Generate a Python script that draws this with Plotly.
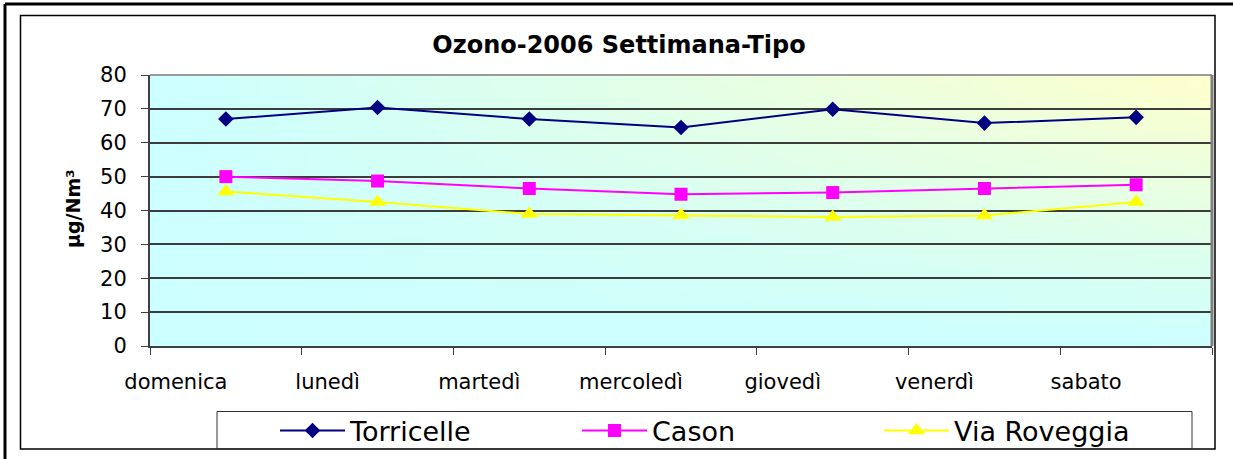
import base64
import struct
import zlib

import plotly.graph_objects as go

# ---------------- data ----------------
days = ["domenica", "lunedì", "martedì", "mercoledì", "giovedì", "venerdì", "sabato"]
torricelle = [67.0, 70.4, 67.0, 64.5, 69.9, 65.8, 67.5]
cason = [50.0, 48.7, 46.5, 44.8, 45.3, 46.5, 47.6]
via_roveggia = [45.6, 42.5, 39.0, 38.6, 38.1, 38.5, 42.5]
y_ticks = [0, 10, 20, 30, 40, 50, 60, 70, 80]

title_text = "Ozono-2006 Settimana-Tipo"
y_title = "µg/Nm³"

# ---------------- geometry helpers ----------------
W, H = 1233, 459
L, R, T, B = 150, 1212, 75, 346
PW, PH = R - L, B - T


def px(x):
    return (x - L) / PW


def py(y):
    return (B - y) / PH


# ---------------- gradient background (decoration) ----------------
def gradient_png(w, h):
    c0 = (204, 255, 255)
    c1 = (255, 255, 204)
    raw = bytearray()
    for j in range(h):
        raw.append(0)
        yn = 1 - (j + 0.5) / h
        for i in range(w):
            xn = (i + 0.5) / w
            t = xn * yn
            for k in range(3):
                raw.append(int(round(c0[k] * (1 - t) + c1[k] * t)))

    def chunk(tag, data):
        return (struct.pack(">I", len(data)) + tag + data
                + struct.pack(">I", zlib.crc32(tag + data) & 0xFFFFFFFF))

    png = (b"\x89PNG\r\n\x1a\n"
           + chunk(b"IHDR", struct.pack(">IIBBBBB", w, h, 8, 2, 0, 0, 0))
           + chunk(b"IDAT", zlib.compress(bytes(raw)))
           + chunk(b"IEND", b""))
    return "data:image/png;base64," + base64.b64encode(png).decode()


FONT = "DejaVu Sans"

fig = go.Figure()
fig.add_trace(go.Scatter(
    x=days, y=torricelle, name="Torricelle", mode="lines+markers",
    line=dict(color="#000080", width=2),
    marker=dict(symbol="diamond", size=12, color="#000080"),
))
fig.add_trace(go.Scatter(
    x=days, y=cason, name="Cason", mode="lines+markers",
    line=dict(color="#FF00FF", width=2),
    marker=dict(symbol="square", size=13, color="#FF00FF"),
))
fig.add_trace(go.Scatter(
    x=days, y=via_roveggia, name="Via Roveggia", mode="lines+markers",
    line=dict(color="#FFFF00", width=2),
    marker=dict(symbol="triangle-up", size=15, color="#FFFF00"),
))

shapes = [
    # outer page border (top and left)
    dict(type="line", xref="paper", yref="paper", x0=px(5), x1=px(1233), y0=py(4), y1=py(4),
         line=dict(color="black", width=3)),
    dict(type="line", xref="paper", yref="paper", x0=px(5), x1=px(5), y0=py(4), y1=py(459),
         line=dict(color="black", width=3)),
    # chart frame
    dict(type="rect", xref="paper", yref="paper", x0=px(20.5), x1=px(1215), y0=py(15.5), y1=py(449),
         line=dict(color="black", width=1.5)),
    # legend box
    dict(type="rect", xref="paper", yref="paper", x0=px(217), x1=px(1192), y0=py(411.5), y1=py(449),
         line=dict(color="#333333", width=1)),
    # plot area top and right borders
    dict(type="line", xref="paper", yref="paper", x0=0, x1=1, y0=1, y1=1,
         line=dict(color="#9a9a9a", width=2)),
    dict(type="line", xref="paper", yref="paper", x0=1, x1=1, y0=0, y1=1,
         line=dict(color="#7f7f7f", width=3)),
]

fig.update_layout(
    width=W, height=H,
    margin=dict(l=L, r=W - R, t=T, b=H - B, autoexpand=False),
    paper_bgcolor="white",
    plot_bgcolor="rgba(0,0,0,0)",
    font=dict(family=FONT, color="black"),
    title=dict(text=title_text, x=619 / W, xanchor="center", xref="container",
               y=1 - 45 / H, yanchor="middle", yref="container",
               font=dict(family=FONT, size=24, weight="bold", color="black")),
    images=[dict(source=gradient_png(64, 16), xref="paper", yref="paper",
                 x=0, y=1, sizex=1, sizey=1, xanchor="left", yanchor="top",
                 sizing="stretch", layer="below")],
    shapes=shapes,
    annotations=[dict(text=y_title, textangle=-90, xref="paper", yref="paper",
                      x=px(73), y=py(209), xanchor="center", yanchor="middle",
                      showarrow=False,
                      font=dict(family=FONT, size=19, weight="bold", color="black"))],
    showlegend=True,
    legend=dict(orientation="h", x=px(275), y=py(431), xanchor="left", yanchor="middle",
                bgcolor="rgba(0,0,0,0)", borderwidth=0,
                font=dict(family=FONT, size=27, color="black"),
                itemwidth=65, entrywidth=222, entrywidthmode="pixels",
                traceorder="normal"),
)

fig.update_xaxes(
    type="category", categoryorder="array", categoryarray=days,
    range=[-0.5, len(days) - 0.5],
    showgrid=False, zeroline=False,
    showline=True, linecolor="#404040", linewidth=1.5,
    ticks="outside", tickson="boundaries", ticklen=7, tickcolor="#404040", tickwidth=1,
    tickfont=dict(family=FONT, size=21, color="black"),
    ticklabelshift=-50, ticklabelstandoff=16,
)
fig.update_yaxes(
    range=[0, 80], tickvals=y_ticks,
    showgrid=True, gridcolor="#3c3c3c", gridwidth=1.5,
    zeroline=False,
    showline=True, linecolor="#404040", linewidth=2,
    ticks="outside", ticklen=7, tickcolor="#404040", tickwidth=1,
    tickfont=dict(family=FONT, size=21, color="black"),
    ticklabelstandoff=10,
)

fig.write_html("out.html", config={"displayModeBar": False},
               post_script="document.body.style.margin='0px';")
